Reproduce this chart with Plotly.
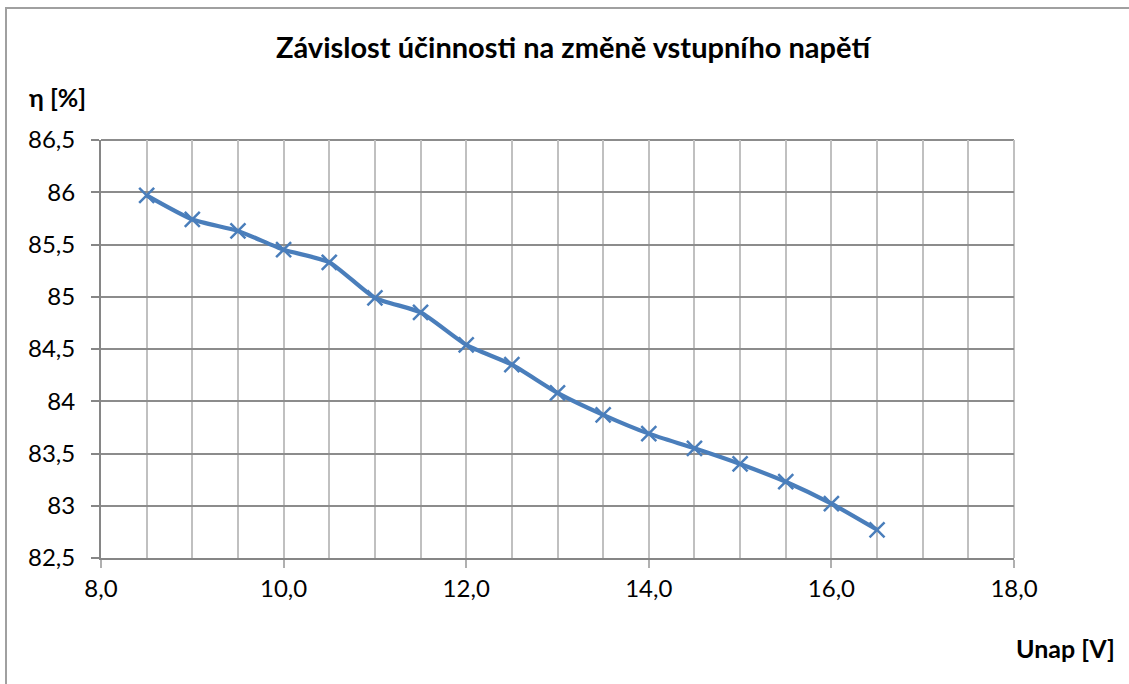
import plotly.graph_objects as go

# Input voltage [V] and efficiency [%]
napeti = [8.5, 9.0, 9.5, 10.0, 10.5, 11.0, 11.5, 12.0, 12.5, 13.0, 13.5, 14.0, 14.5, 15.0, 15.5, 16.0, 16.5]
ucinnost = [85.97, 85.74, 85.63, 85.45, 85.33, 84.99, 84.85, 84.54, 84.35, 84.08, 83.87, 83.69, 83.55, 83.40, 83.23, 83.02, 82.77]

W, H = 1129, 684
L, R, T, B = 101, 115, 140, 126
PW, PH = W - L - R, H - T - B


def px_x(x):
    return (x - L) / PW


def px_y(y):
    return (H - B - y) / PH


BLUE = "#4A7EBB"
FONT = "Lato"

fig = go.Figure()
fig.add_trace(go.Scatter(
    x=napeti, y=ucinnost,
    mode="lines+markers",
    line=dict(color=BLUE, width=4.2, shape="spline", smoothing=0.6),
    marker=dict(symbol="x-thin", size=15, line=dict(color=BLUE, width=2.5), color=BLUE),
    showlegend=False,
    hoverinfo="x+y",
))

fig.update_layout(
    width=W, height=H,
    margin=dict(l=L, r=R, t=T, b=B),
    paper_bgcolor="white", plot_bgcolor="white",
    separators=", ",
    font=dict(family=FONT, color="black"),
    title=dict(
        text="<b>Závislost účinnosti na změně vstupního napětí</b>",
        x=573 / W, xanchor="center", xref="container",
        y=1 - 48 / H, yanchor="middle", yref="container",
        font=dict(family=FONT, size=29, color="black"),
    ),
    xaxis=dict(
        range=[8, 18], dtick=2, tick0=8, tickformat=".1f",
        showgrid=True, gridcolor="#C0C0C0", gridwidth=2,
        minor=dict(dtick=0.5, showgrid=True, gridcolor="#C0C0C0", gridwidth=2, ticks=""),
        ticks="outside", ticklen=8, tickcolor="#B0B0B0", tickwidth=2,
        showline=True, linecolor="#868686", linewidth=2,
        tickfont=dict(family=FONT, size=24, color="black"),
        ticklabelstandoff=0,
        zeroline=False, fixedrange=True,
    ),
    yaxis=dict(
        range=[82.5, 86.5], dtick=0.5, tick0=82.5,
        showgrid=True, gridcolor="#8C8C8C", gridwidth=2,
        ticks="outside", ticklen=8, tickcolor="#868686", tickwidth=2,
        showline=True, linecolor="#868686", linewidth=2,
        tickfont=dict(family=FONT, size=24, color="black"),
        ticklabelstandoff=11,
        zeroline=False, fixedrange=True,
    ),
    annotations=[
        dict(text="<b>η [%]</b>", xref="paper", yref="paper",
             x=px_x(27), y=px_y(97), xanchor="left", yanchor="middle",
             showarrow=False, font=dict(family=FONT, size=25, color="black")),
        dict(text="<b>Unap [V]</b>", xref="paper", yref="paper",
             x=px_x(1117), y=px_y(648), xanchor="right", yanchor="middle",
             showarrow=False, font=dict(family=FONT, size=25, color="black")),
    ],
    shapes=[
        # chart frame
        dict(type="rect", xref="paper", yref="paper",
             x0=px_x(6), x1=px_x(1140), y0=px_y(700), y1=px_y(8),
             line=dict(color="#A0A0A0", width=2), fillcolor="rgba(0,0,0,0)", layer="below"),
        # top and right plot-area borders
        dict(type="line", xref="paper", yref="paper", x0=0, x1=1, y0=1, y1=1,
             line=dict(color="#8C8C8C", width=2), layer="below"),
        dict(type="line", xref="paper", yref="paper", x0=1, x1=1, y0=0, y1=1,
             line=dict(color="#C0C0C0", width=2), layer="below"),
    ],
)

fig.write_html("out.html")
